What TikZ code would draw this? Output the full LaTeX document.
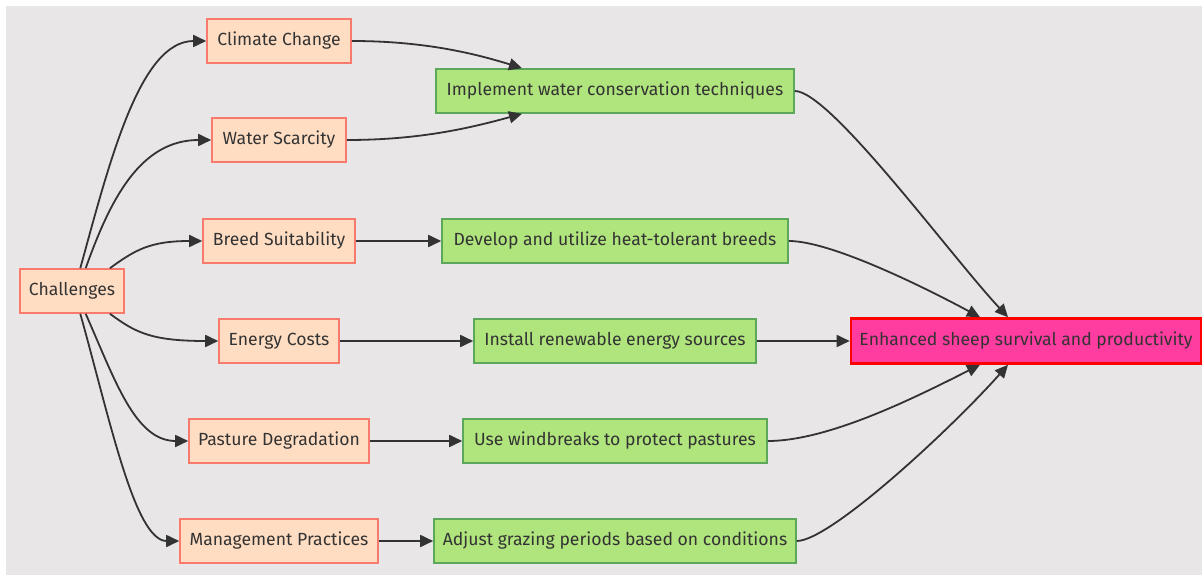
\documentclass[tikz,border=0pt]{standalone}
\usepackage{fontspec}
\setmainfont{Fira Sans}
\usetikzlibrary{arrows.meta}
\definecolor{canvas}{RGB}{232,230,230}
\definecolor{ink}{RGB}{51,51,51}
\definecolor{peachfill}{RGB}{255,221,195}
\definecolor{peachline}{RGB}{248,122,108}
\definecolor{leaffill}{RGB}{176,228,125}
\definecolor{leafline}{RGB}{92,168,90}
\definecolor{goalfill}{RGB}{255,60,160}
\definecolor{goalline}{RGB}{255,0,0}
\tikzset{
  x=1pt, y=-1pt,
  box/.style={rectangle, inner sep=0pt, minimum height=44pt, text=ink,
    font=\fontsize{17.6}{20}\selectfont, line width=1.6pt},
  issue/.style={box, fill=peachfill, draw=peachline},
  remedy/.style={box, fill=leaffill, draw=leafline},
  goal/.style={box, fill=goalfill, draw=goalline, line width=2.6pt, minimum height=45pt},
  link/.style={draw=ink, line width=1.8pt, -{Triangle[length=13pt,width=12pt]}},
}
\begin{document}
\begin{tikzpicture}
% canvas
\useasboundingbox (0,0) rectangle (1203,575);
\fill[white] (0,0) rectangle (1203,575);
\fill[canvas] (6,6) rectangle (1202,575);

% root
\node[issue, minimum width=104pt] (ch) at (72,291) {Challenges};

% challenges
\node[issue, minimum width=144pt] (cc) at (279,41)  {Climate Change};
\node[issue, minimum width=134pt] (ws) at (279,140) {Water Scarcity};
\node[issue, minimum width=152pt] (bs) at (279,241) {Breed Suitability};
\node[issue, minimum width=120pt] (ec) at (279,341) {Energy Costs};
\node[issue, minimum width=180pt] (pd) at (279,441) {Pasture Degradation};
\node[issue, minimum width=198pt] (mp) at (279,541) {Management Practices};

% remedies
\node[remedy, minimum width=358pt] (iw) at (615,91)  {Implement water conservation techniques};
\node[remedy, minimum width=346pt] (dh) at (615,241) {Develop and utilize heat-tolerant breeds};
\node[remedy, minimum width=282pt] (ir) at (615,341) {Install renewable energy sources};
\node[remedy, minimum width=304pt] (uw) at (615,441) {Use windbreaks to protect pastures};
\node[remedy, minimum width=362pt] (ag) at (615,541) {Adjust grazing periods based on conditions};

% outcome
\node[goal, minimum width=350pt] (en) at (1026,341) {Enhanced sheep survival and productivity};

% fan-out from the root
\draw[link] (ch.70)  .. controls (110,160) and (140,41)  .. (cc.west);
\draw[link] (ch.59)  .. controls (110,200) and (140,140) .. (ws.west);
\draw[link] (ch.31)  .. controls (135,250) and (150,241) .. (bs.west);
\draw[link] (ch.-31) .. controls (135,332) and (150,341) .. (ec.west);
\draw[link] (ch.-59) .. controls (115,380) and (135,441) .. (pd.west);
\draw[link] (ch.-70) .. controls (110,420) and (135,541) .. (mp.west);

% challenges to remedies
\draw[link] (cc.east) .. controls (420,41) and (470,52) .. (iw.north -| 522,0);
\draw[link] (ws.east) .. controls (420,140) and (470,128) .. (iw.south -| 522,0);
\draw[link] (bs.east) -- (dh.west);
\draw[link] (ec.east) -- (ir.west);
\draw[link] (pd.east) -- (uw.west);
\draw[link] (mp.east) -- (ag.west);

% remedies to outcome
\draw[link] (iw.east) .. controls (830,91) and (950,255) .. (en.north -| 1008,0);
\draw[link] (dh.east) .. controls (830,241) and (920,285) .. (en.north -| 980,0);
\draw[link] (ir.east) -- (en.west);
\draw[link] (uw.east) .. controls (830,441) and (920,395) .. (en.south -| 980,0);
\draw[link] (ag.east) .. controls (830,541) and (950,430) .. (en.south -| 1008,0);
\end{tikzpicture}
\end{document}
